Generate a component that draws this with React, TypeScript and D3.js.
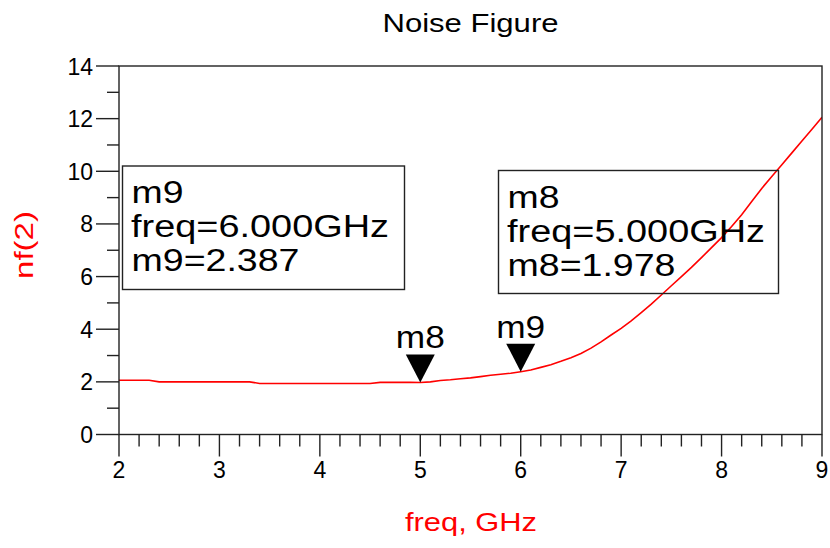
import React from "react";
import * as d3 from "d3";

const freq = [2.0, 2.1, 2.2, 2.3, 2.4, 2.5, 2.6, 2.7, 2.8, 2.9, 3.0, 3.1, 3.2, 3.3, 3.4, 3.5, 3.6, 3.7, 3.8, 3.9, 4.0, 4.1, 4.2, 4.3, 4.4, 4.5, 4.6, 4.7, 4.8, 4.9, 5.0, 5.1, 5.2, 5.3, 5.4, 5.5, 5.6, 5.7, 5.8, 5.9, 6.0, 6.1, 6.2, 6.3, 6.4, 6.5, 6.6, 6.7, 6.8, 6.9, 7.0, 7.1, 7.2, 7.3, 7.4, 7.5, 7.6, 7.7, 7.8, 7.9, 8.0, 8.1, 8.2, 8.3, 8.4, 8.5, 8.6, 8.7, 8.8, 8.9, 9.0];
const nf = [2.06, 2.06, 2.06, 2.06, 2.0, 2.0, 2.0, 2.0, 2.0, 2.0, 2.0, 2.0, 2.0, 2.0, 1.94, 1.94, 1.94, 1.94, 1.94, 1.94, 1.94, 1.94, 1.94, 1.94, 1.94, 1.94, 1.98, 1.98, 1.98, 1.98, 1.978, 2.0, 2.05, 2.08, 2.12, 2.15, 2.2, 2.25, 2.29, 2.33, 2.387, 2.45, 2.55, 2.65, 2.78, 2.92, 3.08, 3.28, 3.52, 3.78, 4.03, 4.32, 4.63, 4.95, 5.3, 5.65, 6.0, 6.35, 6.72, 7.1, 7.48, 7.9, 8.35, 8.85, 9.35, 9.8, 10.25, 10.7, 11.15, 11.6, 12.05];

const xMajor = [2, 3, 4, 5, 6, 7, 8, 9];
const yMajor = [0, 2, 4, 6, 8, 10, 12, 14];

const markerNames = ["m8", "m9"];
const markerFreq = [5.0, 6.0];
const markerVal = [1.978, 2.387];

const title = "Noise Figure";
const xLabel = "freq, GHz";
const yLabel = "nf(2)";

export default function App() {
  const W = 830, H = 548;
  const L = 119, R = 822, T = 66, B = 434.5;
  const x = d3.scaleLinear().domain([2, 9]).range([L, R]);
  const y = d3.scaleLinear().domain([0, 14]).range([B, T]);
  const line = d3.line<number>().x((_, i) => x(freq[i])).y((d) => y(d));
  const xMinor = d3.range(2, 9.0001, 0.2).filter((v) => Math.abs(v - Math.round(v)) > 0.01);
  const yMinor = d3.range(1, 14, 2);
  const font = "'Liberation Sans', Arial, sans-serif";

  const boxes = [
    { x0: 122.5, y0: 166, x1: 404.5, y1: 289.5, name: "m9", i: 1 },
    { x0: 498.5, y0: 170.5, x1: 778.5, y1: 293.5, name: "m8", i: 0 },
  ];

  return (
    <svg width={W} height={H} style={{ position: "absolute", left: 0, top: 0 }} fontFamily={font}>
      <rect x={0} y={0} width={W} height={H} fill="#fff" />
      <text x={470.5} y={32} textAnchor="middle" fontSize={26} textLength={176} lengthAdjust="spacingAndGlyphs">{title}</text>
      <defs>
        <clipPath id="pc"><rect x={L} y={T} width={R - L} height={B - T} /></clipPath>
      </defs>
      <path d={line(nf) || ""} fill="none" stroke="#ff0000" strokeWidth={1.6} clipPath="url(#pc)" />
      <rect x={L} y={T} width={R - L} height={B - T} fill="none" stroke="#222" strokeWidth={1.4} />
      {xMajor.map((v) => (
        <g key={"xm" + v}>
          <line x1={x(v)} x2={x(v)} y1={B} y2={B + 22} stroke="#222" strokeWidth={1.4} />
          <text x={x(v)} y={478} textAnchor="middle" fontSize={23}>{v}</text>
        </g>
      ))}
      {xMinor.map((v) => (
        <line key={"xn" + v} x1={x(v)} x2={x(v)} y1={B} y2={B + 12} stroke="#222" strokeWidth={1.4} />
      ))}
      {yMajor.map((v) => (
        <g key={"ym" + v}>
          <line x1={L - 23} x2={L} y1={y(v)} y2={y(v)} stroke="#222" strokeWidth={1.4} />
          <text x={93} y={y(v) + 8.5} textAnchor="end" fontSize={23}>{v}</text>
        </g>
      ))}
      {yMinor.map((v) => (
        <line key={"yn" + v} x1={L - 12} x2={L} y1={y(v)} y2={y(v)} stroke="#222" strokeWidth={1.4} />
      ))}
      <text x={471} y={531} textAnchor="middle" fontSize={26} fill="#ff0000" textLength={132} lengthAdjust="spacingAndGlyphs">{xLabel}</text>
      <text transform={`translate(33,245) rotate(-90)`} textAnchor="middle" fontSize={26} fill="#ff0000" textLength={68} lengthAdjust="spacingAndGlyphs">{yLabel}</text>
      {markerNames.map((m, i) => {
        const px = x(markerFreq[i]);
        const py = y(markerVal[i]);
        return (
          <g key={m}>
            <path d={`M${px - 14.5},${py - 28} L${px + 14.5},${py - 28} L${px},${py} Z`} fill="#000" />
            <text x={px} y={py - 34} textAnchor="middle" fontSize={31} textLength={49} lengthAdjust="spacingAndGlyphs">{m}</text>
          </g>
        );
      })}
      {boxes.map((b) => (
        <g key={b.name}>
          <rect x={b.x0} y={b.y0} width={b.x1 - b.x0} height={b.y1 - b.y0} fill="none" stroke="#222" strokeWidth={1.4} />
          <text x={b.x0 + 9} y={b.y0 + 37} fontSize={31} textLength={52} lengthAdjust="spacingAndGlyphs">{b.name}</text>
          <text x={b.x0 + 8.5} y={b.y0 + 71} fontSize={31} textLength={258} lengthAdjust="spacingAndGlyphs">{`freq=${markerFreq[b.i].toFixed(3)}GHz`}</text>
          <text x={b.x0 + 9} y={b.y0 + 105} fontSize={31} textLength={168} lengthAdjust="spacingAndGlyphs">{`${b.name}=${markerVal[b.i].toFixed(3)}`}</text>
        </g>
      ))}
    </svg>
  );
}
